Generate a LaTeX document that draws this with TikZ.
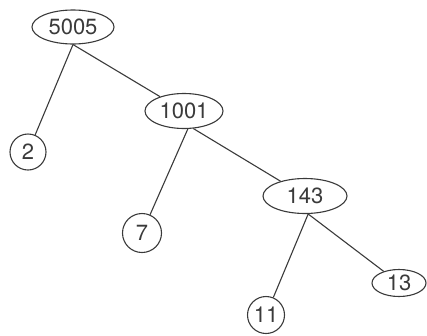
\documentclass[tikz,border=0pt]{standalone}
\usepackage{fontspec}
\setmainfont{TeX Gyre Heros}
\usetikzlibrary{shapes.geometric}
\definecolor{ink}{HTML}{3A3A3A}
\begin{document}
\begin{tikzpicture}[x=1pt,y=-1pt,
  oval/.style={ellipse,draw=ink,line width=1.1pt,inner sep=0pt,text=ink,font=\fontsize{22}{22}\selectfont},
  ring/.style={circle,draw=ink,line width=1.1pt,inner sep=0pt,text=ink,font=\fontsize{22}{22}\selectfont},
  edge/.style={draw=ink,line width=1.1pt}]
\useasboundingbox (0,0) rectangle (427,335);
\node[oval,minimum width=82pt,minimum height=34pt] (n5005) at (73,27) {5005};
\node[oval,minimum width=78pt,minimum height=35pt] (n1001) at (184,111) {1001};
\node[oval,minimum width=84pt,minimum height=35pt] (n143) at (305,196) {143};
\node[oval,minimum width=54pt,minimum height=27pt] (n13) at (399,283) {13};
\node[ring,minimum size=36pt] (n2) at (28,152) {2};
\node[ring,minimum size=39pt] (n7) at (142,233) {7};
\node[ring,minimum size=37pt] (n11) at (266,315) {11};
\draw[edge] (n5005.south) -- (n2);
\draw[edge] (n5005.south) -- (n1001);
\draw[edge] (n1001.-78) -- (n7);
\draw[edge] (n1001.-62) -- (n143);
\draw[edge] (n143.-80) -- (n11);
\draw[edge] (n143.-80) -- (n13);
\end{tikzpicture}
\end{document}
